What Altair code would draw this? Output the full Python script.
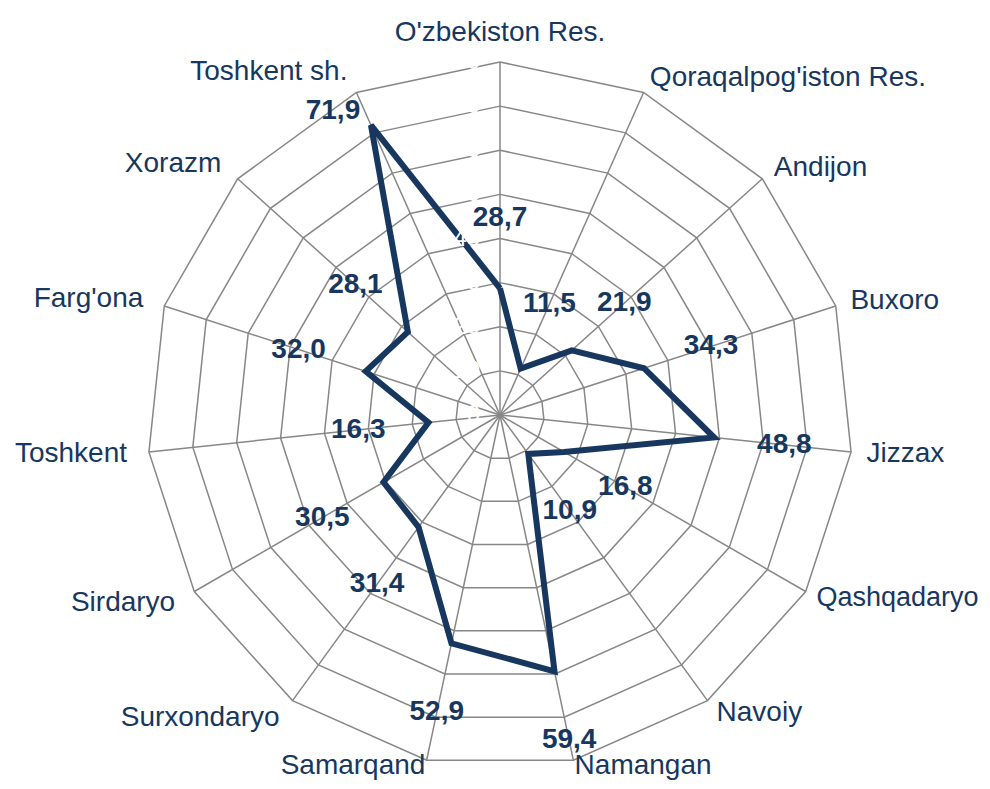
import math
import altair as alt
import pandas as pd

# ---- data ----
categories = ["O'zbekiston Res.", "Qoraqalpog'iston Res.", "Andijon", "Buxoro", "Jizzax",
              "Qashqadaryo", "Navoiy", "Namangan", "Samarqand", "Surxondaryo", "Sirdaryo",
              "Toshkent", "Farg'ona", "Xorazm", "Toshkent sh."]
values = [28.7, 11.5, 21.9, 34.3, 48.8, 16.8, 10.9, 59.4, 52.9, 31.4, 30.5, 16.3, 32.0, 28.1, 71.9]
value_labels = ["28,7", "11,5", "21,9", "34,3", "48,8", "16,8", "10,9", "59,4", "52,9",
                "31,4", "30,5", "16,3", "32,0", "28,1", "71,9"]
ring_values = [0, 10, 20, 30, 40, 50, 60, 70, 80]

# ---- layout ----
W, H = 974, 773
CX, CY = 492, 407          # centre of the radar in chart pixels
RMAX_PX = 353              # pixel radius of the outer ring
VMAX = 80
K = RMAX_PX / VMAX
N = len(categories)

TEXT = "#17375E"
LINE = "#17375E"
GRID = "#878787"
FONT = "Liberation Sans"
FS = 28

xs = alt.Scale(domain=[-CX / K, (W - CX) / K], nice=False, zero=False)
ys = alt.Scale(domain=[-(H - CY) / K, CY / K], nice=False, zero=False)

step = 2 * math.pi / N

cat_df = pd.DataFrame({"idx": list(range(N)), "cat": categories,
                       "v": values, "lab": value_labels})
line_df = pd.DataFrame({"idx": list(range(N + 1)),
                        "v": values + [values[0]]})
ring_rows = []
for r in ring_values[1:]:
    for i in range(N + 1):
        ring_rows.append({"ring": r, "idx": i})
ring_df = pd.DataFrame(ring_rows)
tick_df = pd.DataFrame({"r": ring_values, "t": [str(v) for v in ring_values]})

ang = f"datum.idx * {step}"

def xy(base, rexpr):
    return base.transform_calculate(
        px=f"({rexpr}) * sin({ang})",
        py=f"({rexpr}) * cos({ang})",
    )

X = lambda f="px": alt.X(f"{f}:Q", scale=xs, axis=None)
Y = lambda f="py": alt.Y(f"{f}:Q", scale=ys, axis=None)

rings = xy(alt.Chart(ring_df), "datum.ring").mark_line(
    color=GRID, strokeWidth=1.5).encode(
    x=X(), y=Y(), detail="ring:N", order="idx:Q")

spokes = alt.Chart(cat_df).transform_calculate(
    x0="0", y0="0",
    px=f"{VMAX} * sin({ang})", py=f"{VMAX} * cos({ang})"
).mark_rule(color=GRID, strokeWidth=1.5).encode(
    x=X("x0"), y=Y("y0"), x2="px:Q", y2="py:Q")

series = xy(alt.Chart(line_df), "datum.v").mark_line(
    color=LINE, strokeWidth=6, strokeJoin="miter").encode(
    x=X(), y=Y(), order="idx:Q")

white_ticks = alt.Chart(tick_df).transform_calculate(
    px="-4.5", py="datum.r"
).mark_text(color="white", font=FONT, fontSize=24, align="right", baseline="middle").encode(
    x=X(), y=Y(), text="t:N")

def cat_layer(flt, r, align, fs=FS):
    return xy(alt.Chart(cat_df).transform_filter(flt), str(r)).mark_text(
        color=TEXT, font=FONT, fontSize=fs, align=align, baseline="middle").encode(
        x=X(), y=Y(), text="cat:N")

cat_center = cat_layer("datum.idx == 0", 86.6, "center")
cat_right_side = cat_layer(
    f"datum.idx > 0 && datum.idx != 7 && datum.idx != 5 && sin({ang}) > 0", 83.5, "left")
cat_q = cat_layer("datum.idx == 5", 82.8, "left", 27)
cat_left_side = cat_layer(f"datum.idx != 8 && sin({ang}) < -0.01", 85, "right")
cat_bottom_r = cat_layer("datum.idx == 7", 81.3, "left")
cat_bottom_l = cat_layer("datum.idx == 8", 81.3, "right")

val_lab = xy(alt.Chart(cat_df).transform_filter("datum.v < 70"), "datum.v + 16").mark_text(
    color=TEXT, font=FONT, fontSize=FS, fontWeight="bold", align="center", baseline="middle"
).encode(x=X(), y=Y(), text="lab:N")

val_lab_top = xy(alt.Chart(cat_df).transform_filter("datum.v >= 70"), "datum.v").mark_text(
    color=TEXT, font=FONT, fontSize=FS, fontWeight="bold", align="center", baseline="middle",
    dx=-38, dy=-14
).encode(x=X(), y=Y(), text="lab:N")

chart = alt.layer(
    rings, spokes, series, white_ticks,
    cat_center, cat_right_side, cat_q, cat_left_side, cat_bottom_r, cat_bottom_l,
    val_lab, val_lab_top
).properties(
    width=W, height=H, autosize=alt.AutoSizeParams(type="none"), padding=0
).configure_view(stroke=None)

chart.save("out.html", embed_options={"renderer": "svg", "actions": False})
